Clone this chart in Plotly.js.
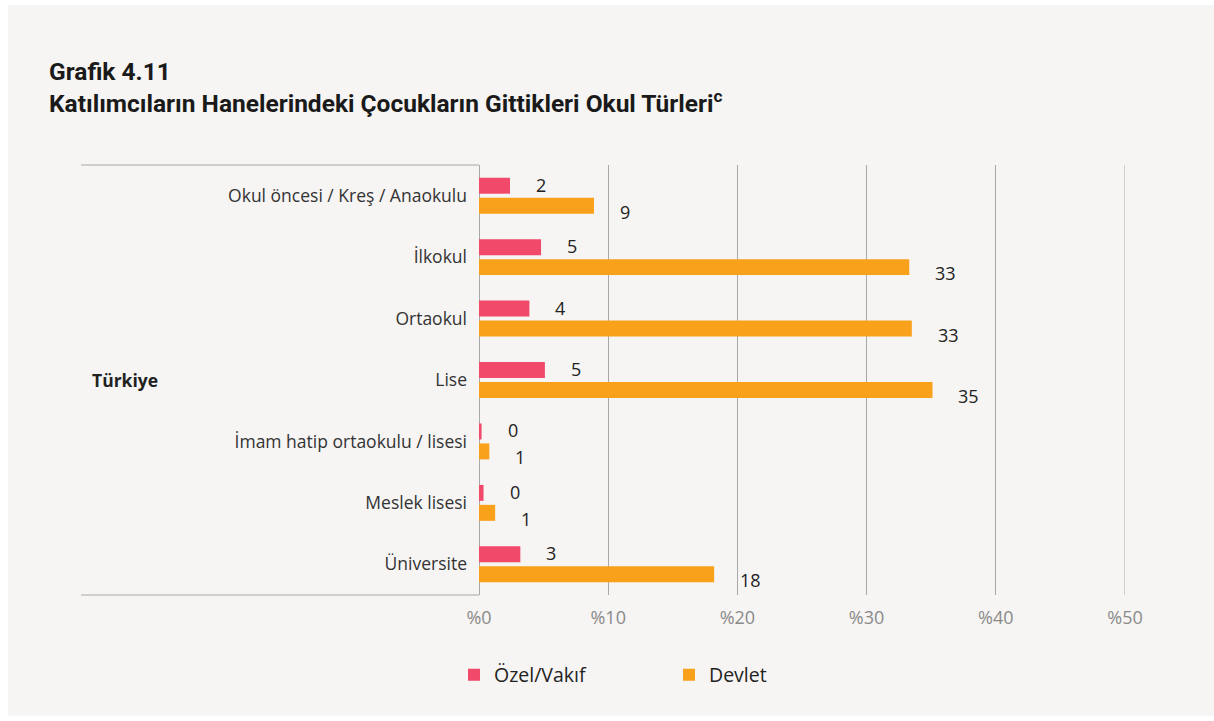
<!DOCTYPE html>
<html>
<head>
<meta charset="utf-8">
<script src="https://cdn.plot.ly/plotly-3.0.1.min.js"></script>
<style>html,body{margin:0;padding:0;background:#ffffff;}#chart{width:1214px;height:721px;}</style>
</head>
<body>
<div id="chart"></div>
<script>
// ---- data ----
const categories = [
  "Okul öncesi / Kreş / Anaokulu",
  "İlkokul",
  "Ortaokul",
  "Lise",
  "İmam hatip ortaokulu / lisesi",
  "Meslek lisesi",
  "Üniversite"
];
const ozelValues   = [2.4, 4.8, 3.9, 5.1, 0.2, 0.35, 3.2];
const devletValues = [8.9, 33.3, 33.5, 35.1, 0.8, 1.25, 18.2];
const ozelLabels   = ["2", "5", "4", "5", "0", "0", "3"];
const devletLabels = ["9", "33", "33", "35", "1", "1", "18"];
const seriesNames  = ["Özel/Vakıf", "Devlet"];
const groupLabel   = "Türkiye";
const xTickVals    = [0, 10, 20, 30, 40, 50];
const xTickText    = ["%0", "%10", "%20", "%30", "%40", "%50"];
const titleLines   = ["Grafik 4.11", "Katılımcıların Hanelerindeki Çocukların Gittikleri Okul Türleri<sup>c</sup>"];

// ---- style ----
const colOzel = "#f0496a";
const colDevlet = "#f9a11b";
const textFont = "Open Sans, Lato, sans-serif";
const gridCol = "#a8a8a8";

const traces = [
  {type: "bar", orientation: "h", name: seriesNames[0], y: categories, x: ozelValues,
   marker: {color: colOzel}, hoverinfo: "x+y"},
  {type: "bar", orientation: "h", name: seriesNames[1], y: categories, x: devletValues,
   marker: {color: colDevlet}, hoverinfo: "x+y"}
];

const annotations = [];
categories.forEach((c, i) => {
  annotations.push({x: ozelValues[i], y: c, xref: "x", yref: "y", text: ozelLabels[i],
    showarrow: false, xanchor: "left", yanchor: "middle", xshift: 24, yshift: 11,
    font: {family: textFont, size: 18, color: "#222"}});
  annotations.push({x: devletValues[i], y: c, xref: "x", yref: "y", text: devletLabels[i],
    showarrow: false, xanchor: "left", yanchor: "middle", xshift: 24, yshift: -16,
    font: {family: textFont, size: 18, color: "#222"}});
});
annotations.push({x: -0.602, y: 0.5, xref: "paper", yref: "paper", text: "<b>" + groupLabel + "</b>",
  showarrow: false, xanchor: "left", yanchor: "middle",
  font: {family: textFont, size: 17.5, color: "#222"}});

const layout = {
  width: 1214, height: 721,
  paper_bgcolor: "#ffffff",
  plot_bgcolor: "rgba(0,0,0,0)",
  margin: {l: 479, r: 89, t: 165, b: 126},
  title: {
    text: "<b>" + titleLines.join("<br>") + "</b>",
    xref: "container", yref: "container", x: 49/1214, xanchor: "left",
    y: 1 - 80/721, yanchor: "top",
    font: {family: "Roboto, sans-serif", size: 24.5, color: "#1a1a1a"}
  },
  barmode: "group",
  bargap: 0.35,
  bargroupgap: 0.2,
  xaxis: {
    range: [0, 50], tickvals: xTickVals, ticktext: xTickText,
    showgrid: true, gridcolor: gridCol, gridwidth: 1,
    zeroline: true, zerolinecolor: gridCol, zerolinewidth: 1,
    showline: false, ticks: "", ticklabelstandoff: 10,
    tickfont: {family: textFont, size: 18, color: "#8a8a8a"},
    fixedrange: true
  },
  yaxis: {
    type: "category", autorange: "reversed",
    showgrid: false, zeroline: false, showline: false, ticks: "",
    ticklabelstandoff: 11,
    tickfont: {family: textFont, size: 17.5, color: "#333"},
    fixedrange: true
  },
  shapes: [
    {type: "rect", xref: "paper", yref: "paper", x0: -0.729, x1: 1.14, y0: -0.281, y1: 1.372,
     fillcolor: "#f6f5f3", line: {width: 0}, layer: "below"},
    {type: "line", xref: "paper", yref: "paper", x0: -0.616, x1: 0, y0: 1, y1: 1,
     line: {color: gridCol, width: 1}},
    {type: "line", xref: "paper", yref: "paper", x0: -0.616, x1: 0, y0: 0, y1: 0,
     line: {color: gridCol, width: 1}},
    {type: "line", xref: "x", yref: "paper", x0: xTickVals[xTickVals.length - 1], x1: xTickVals[xTickVals.length - 1], y0: 0, y1: 1,
     line: {color: gridCol, width: 1}}
  ],
  annotations: annotations,
  showlegend: true,
  legend: {
    orientation: "h", xref: "container", yref: "container",
    x: 454/1214, xanchor: "left", y: 1 - 675/721, yanchor: "middle",
    entrywidth: 170, entrywidthmode: "pixels",
    font: {family: textFont, size: 19.5, color: "#222"},
    bgcolor: "rgba(0,0,0,0)"
  }
};

Plotly.newPlot("chart", traces, layout, {displayModeBar: false, staticPlot: false});
</script>
</body>
</html>
